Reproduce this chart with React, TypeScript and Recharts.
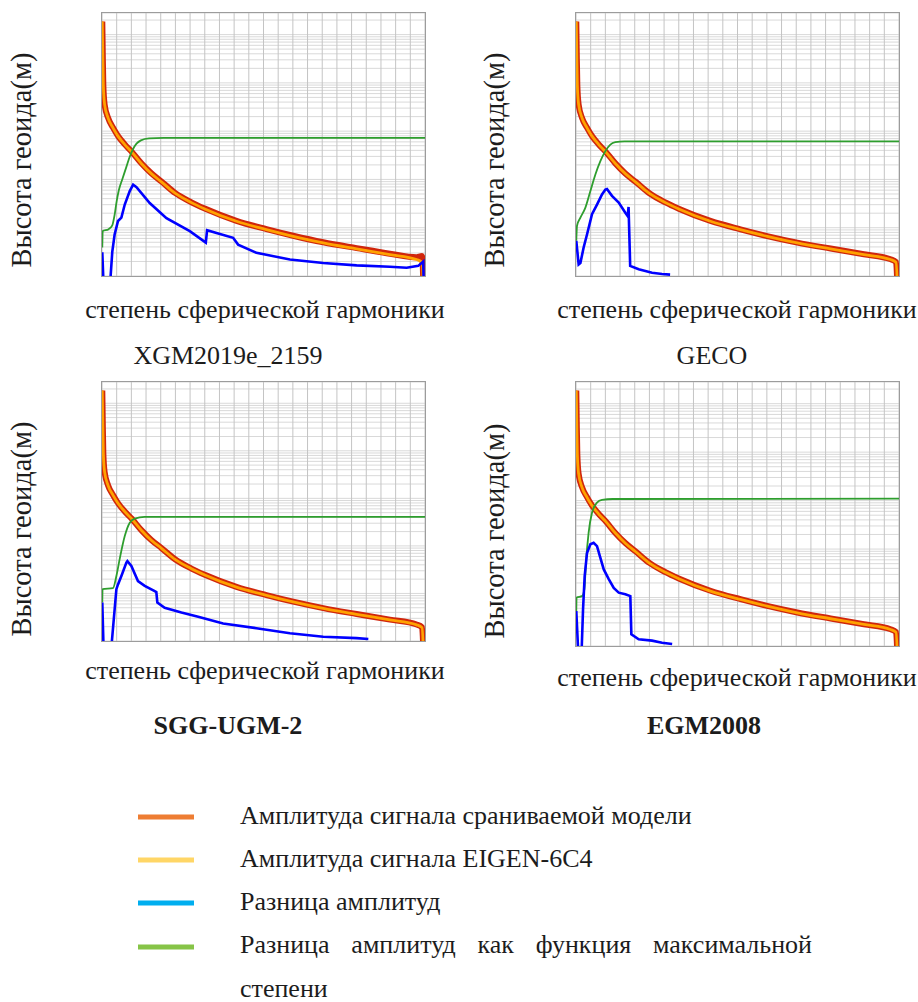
import React from 'react';
import { LineChart, Line, XAxis, YAxis, CartesianGrid } from 'recharts';

// ---------- axes ----------
const degreeTicks = [0, 100, 200, 300, 400, 500, 600, 700, 800, 900, 1000, 1100, 1200, 1300, 1400, 1500, 1600, 1700, 1800, 1900, 2000, 2100, 2200];
const degreeDomain = [0, 2200];
const amplitudeDomain = [0.0001, 28];
const decadeStarts = [0.0001, 0.001, 0.01, 0.1, 1, 10];
const mantissas = [1, 2, 3, 4, 5, 6, 7, 8, 9];
const amplitudeTicks = decadeStarts
  .flatMap((d) => mantissas.map((m) => Number((m * d).toPrecision(3))))
  .filter((v) => v <= amplitudeDomain[1]);

// ---------- EIGEN-6C4 signal amplitude (same in every panel) ----------
const refDegrees = [2, 5, 9, 18, 41, 75, 109, 155, 202, 268, 336, 405, 500, 609, 700, 916, 1120, 1302, 1507, 1734, 1961, 2143, 2180, 2190];
const refAmp = [18.6, 4.47, 0.912, 0.355, 0.188, 0.117, 0.0789, 0.0528, 0.0373, 0.0214, 0.0132, 0.00891, 0.00513, 0.00331, 0.00245, 0.00136, 0.000914, 0.000664, 0.000485, 0.000365, 0.000278, 0.000219, 0.000191, 0.00005];

// ---------- compared model signal amplitude ----------
const modelDegrees = [2, 5, 9, 18, 41, 75, 109, 155, 202, 268, 336, 405, 500, 609, 700, 916, 1120, 1302, 1507, 1734, 1961, 2143, 2180, 2190];
const xgmModelAmp = [18.6, 4.47, 0.912, 0.355, 0.19, 0.118, 0.0795, 0.0532, 0.0376, 0.0216, 0.0134, 0.00905, 0.0052, 0.00336, 0.00249, 0.00139, 0.000935, 0.000682, 0.000499, 0.000378, 0.00029, 0.000245, 0.00026, 0.00005];
const gecoModelAmp = [18.6, 4.47, 0.912, 0.355, 0.189, 0.118, 0.0792, 0.053, 0.0375, 0.0215, 0.0133, 0.009, 0.00518, 0.00334, 0.00247, 0.00138, 0.000925, 0.000672, 0.000492, 0.00037, 0.000282, 0.000222, 0.000194, 0.00005];
const sggModelAmp = [18.6, 4.47, 0.912, 0.355, 0.189, 0.118, 0.0792, 0.053, 0.0375, 0.0215, 0.0133, 0.009, 0.00518, 0.00334, 0.00247, 0.00138, 0.000925, 0.000672, 0.000492, 0.00037, 0.000282, 0.000222, 0.000194, 0.00005];
const egmModelAmp = [18.6, 4.47, 0.912, 0.355, 0.189, 0.118, 0.0792, 0.053, 0.0375, 0.0215, 0.0133, 0.009, 0.00518, 0.00334, 0.00247, 0.00138, 0.000925, 0.000672, 0.000492, 0.00037, 0.000282, 0.000222, 0.000194, 0.00005];

// ---------- amplitude difference per degree ----------
const xgmDiffDegrees = [2, 12, 52, 70, 86, 109, 132, 155, 189, 212, 235, 325, 439, 598, 707, 716, 780, 893, 927, 1052, 1280, 1507, 1734, 1961, 2075, 2154, 2188, 2192];
const xgmDiffAmp = [0.000309, 0.00005, 0.00005, 0.000316, 0.000724, 0.00138, 0.00162, 0.00302, 0.00575, 0.00776, 0.00692, 0.00324, 0.00158, 0.000851, 0.00049, 0.000891, 0.000776, 0.000617, 0.000447, 0.000302, 0.000219, 0.000186, 0.000166, 0.000155, 0.000148, 0.000162, 0.0002, 0.00005];

const gecoDiffDegrees = [2, 18, 30, 52, 75, 109, 143, 177, 200, 211, 245, 291, 336, 352, 358, 369, 427, 518, 586, 641];
const gecoDiffAmp = [0.000537, 0.000174, 0.000186, 0.000389, 0.000724, 0.00191, 0.00302, 0.0049, 0.00617, 0.00631, 0.00457, 0.00331, 0.00204, 0.00174, 0.00269, 0.000162, 0.000138, 0.000117, 0.00011, 0.000107];

const sggDiffDegrees = [2, 12, 59, 98, 109, 132, 166, 173, 200, 245, 291, 359, 370, 377, 427, 541, 655, 825, 1052, 1280, 1507, 1734, 1814];
const sggDiffAmp = [0.000646, 0.00005, 0.00005, 0.00123, 0.00155, 0.00234, 0.00447, 0.00479, 0.0038, 0.00182, 0.00145, 0.00112, 0.00107, 0.000646, 0.000501, 0.000398, 0.000324, 0.000234, 0.000186, 0.000145, 0.000123, 0.000115, 0.00011];

const egmDiffDegrees = [2, 18, 36, 48, 59, 75, 98, 120, 143, 166, 189, 223, 257, 291, 336, 370, 377, 427, 518, 586, 655];
const egmDiffAmp = [0.000525, 0.00005, 0.00005, 0.000575, 0.00275, 0.00832, 0.0126, 0.0135, 0.0115, 0.00661, 0.0038, 0.0024, 0.00158, 0.00126, 0.00117, 0.00107, 0.000174, 0.000138, 0.000129, 0.000117, 0.00011];

// ---------- amplitude difference as a function of maximum degree ----------
const xgmCumDegrees = [2, 5, 45, 70, 85, 100, 115, 140, 165, 190, 210, 235, 265, 320, 420, 2200];
const xgmCumAmp = [0.000389, 0.000851, 0.000933, 0.00112, 0.00178, 0.00355, 0.00603, 0.0105, 0.0178, 0.0302, 0.0417, 0.055, 0.0646, 0.0708, 0.0724, 0.0728];

const gecoCumDegrees = [2, 7, 30, 64, 98, 132, 166, 200, 234, 268, 330, 2200];
const gecoCumAmp = [0.000537, 0.0011, 0.00162, 0.0026, 0.00575, 0.0127, 0.024, 0.0386, 0.0528, 0.0592, 0.0617, 0.0617];

const sggCumDegrees = [2, 4, 75, 98, 120, 155, 189, 223, 290, 2200];
const sggCumAmp = [0.000646, 0.00123, 0.00129, 0.00233, 0.00522, 0.0161, 0.0308, 0.0374, 0.0406, 0.0407];

const egmCumDegrees = [2, 4, 41, 57, 68, 86, 109, 143, 177, 250, 2200];
const egmCumAmp = [0.000525, 0.001, 0.00107, 0.00148, 0.00525, 0.0219, 0.0562, 0.0906, 0.103, 0.108, 0.11];

// ---------- texts ----------
const yAxisLabel = 'Высота геоида(м)';
const xAxisLabel = 'степень сферической гармоники';
const modelNames = ['XGM2019e_2159', 'GECO', 'SGG-UGM-2', 'EGM2008'];
const legendLabels = [
  'Амплитуда сигнала сраниваемой модели',
  'Амплитуда сигнала EIGEN-6C4',
  'Разница амплитуд',
  'Разница амплитуд как функция максимальной',
];
const legendTail = 'степени';
const legendColors = ['#EE7D33', '#FFD666', '#00AEEF', '#86C447'];

const pts = (ds: number[], vs: number[]) => ds.map((d, i) => ({ d, v: vs[i] }));

const panels = [
  {
    name: modelNames[0], bold: false, left: 102, top: 13, w: 323, h: 263,
    model: pts(modelDegrees, xgmModelAmp), diff: pts(xgmDiffDegrees, xgmDiffAmp), cum: pts(xgmCumDegrees, xgmCumAmp),
    yl: [31, 160], xl: [265, 318], tl: [228, 364],
  },
  {
    name: modelNames[1], bold: false, left: 576, top: 13, w: 323, h: 263,
    model: pts(modelDegrees, gecoModelAmp), diff: pts(gecoDiffDegrees, gecoDiffAmp), cum: pts(gecoCumDegrees, gecoCumAmp),
    yl: [504, 160], xl: [737, 318], tl: [712, 364],
  },
  {
    name: modelNames[2], bold: true, left: 102, top: 382, w: 323, h: 259,
    model: pts(modelDegrees, sggModelAmp), diff: pts(sggDiffDegrees, sggDiffAmp), cum: pts(sggCumDegrees, sggCumAmp),
    yl: [31, 529], xl: [265, 679], tl: [228, 734],
  },
  {
    name: modelNames[3], bold: true, left: 576, top: 382, w: 323, h: 264,
    model: pts(modelDegrees, egmModelAmp), diff: pts(egmDiffDegrees, egmDiffAmp), cum: pts(egmCumDegrees, egmCumAmp),
    yl: [504, 531], xl: [737, 686], tl: [704, 734],
  },
];

const refPoints = pts(refDegrees, refAmp);

const NoTick = () => <g />;

function Panel({ p }: { p: any }) {
  return (
    <div style={{ position: 'absolute', left: p.left, top: p.top, width: p.w, height: p.h }}>
      <LineChart width={p.w} height={p.h} margin={{ top: 0, right: 0, bottom: 0, left: 0 }}>
        <CartesianGrid vertical={false} stroke="#d9d9d9" strokeWidth={1} />
        <CartesianGrid horizontal={false} stroke="#c4c4c4" strokeWidth={1} />
        <XAxis type="number" dataKey="d" domain={degreeDomain} ticks={degreeTicks} interval={0} height={0} tick={NoTick} tickLine={false} axisLine={false} allowDataOverflow />
        <YAxis type="number" scale="log" domain={amplitudeDomain} ticks={amplitudeTicks} interval={0} width={0} tick={NoTick} tickLine={false} axisLine={false} allowDataOverflow />
        <Line data={p.model} dataKey="v" type="monotone" stroke="#D0260C" strokeWidth={6} dot={false} isAnimationActive={false} />
        <Line data={refPoints} dataKey="v" type="monotone" stroke="#FFA200" strokeWidth={2.8} dot={false} isAnimationActive={false} />
        <Line data={p.cum} dataKey="v" type="monotone" stroke="#2E9E2E" strokeWidth={1.8} dot={false} isAnimationActive={false} />
        <Line data={p.diff} dataKey="v" type="linear" stroke="#0000FF" strokeWidth={2.6} dot={false} isAnimationActive={false} />
      </LineChart>
      <div style={{ position: 'absolute', left: -1, top: -1, width: p.w + 2, height: p.h + 2, boxSizing: 'border-box', border: '1px solid #9c9c9c', pointerEvents: 'none' }} />
    </div>
  );
}

export default function App() {
  const font = "'Liberation Serif', 'Times New Roman', serif";
  const fs = 26;
  return (
    <div style={{ position: 'absolute', left: 0, top: 0, width: 918, height: 1002, background: '#fff', fontFamily: font, overflow: 'hidden' }}>
      <svg width={918} height={1002} style={{ position: 'absolute', left: 0, top: 0 }} fontFamily={font} fontSize={fs} fill="#1c1c1c">
        {panels.map((p) => (
          <g key={p.name}>
            <text x={p.yl[0]} y={p.yl[1]} textAnchor="middle" fontSize={28.5} transform={`rotate(-90, ${p.yl[0]}, ${p.yl[1]})`}>{yAxisLabel}</text>
            <text x={p.xl[0]} y={p.xl[1]} textAnchor="middle">{xAxisLabel}</text>
            <text x={p.tl[0]} y={p.tl[1]} textAnchor="middle" fontWeight={p.bold ? 'bold' : 'normal'}>{p.name}</text>
          </g>
        ))}
        {legendColors.map((c, i) => (
          <line key={c} x1={138} x2={194} y1={[817, 860, 903, 947][i]} y2={[817, 860, 903, 947][i]} stroke={c} strokeWidth={5} />
        ))}
        {legendLabels.slice(0, 3).map((t, i) => (
          <text key={t} x={240} y={[824, 867, 910][i]}>{t}</text>
        ))}
        <text x={240} y={997}>{legendTail}</text>
      </svg>
      <div style={{ position: 'absolute', left: 240, top: 954 - 21.8, width: 572, fontSize: fs, lineHeight: '26px', textAlign: 'justify', textAlignLast: 'justify', color: '#1c1c1c', whiteSpace: 'nowrap' }}>
        {legendLabels[3]}
      </div>
      {panels.map((p) => (
        <Panel key={p.name} p={p} />
      ))}
    </div>
  );
}
